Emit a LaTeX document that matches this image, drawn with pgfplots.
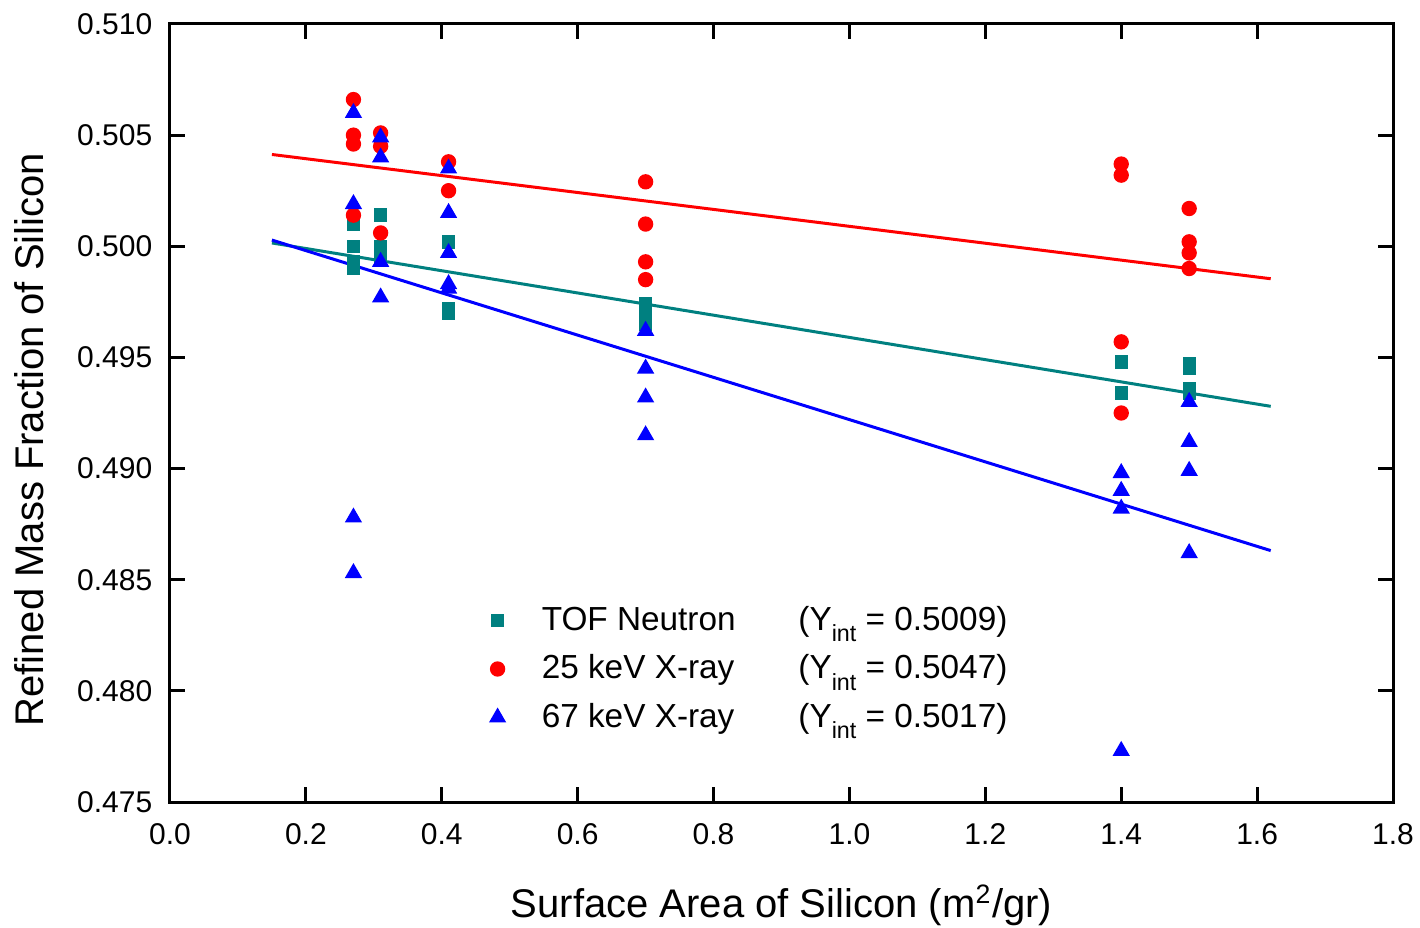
\documentclass[border=0pt]{standalone}
\usepackage{fontspec}
\setmainfont{Liberation Sans}
\usepackage{pgfplots}
\pgfplotsset{compat=1.18}
\definecolor{tealc}{RGB}{0,128,128}
\newcommand{\yint}{(Y\raisebox{-3.5pt}{\fontsize{7}{8}\selectfont int} = }
\begin{document}
\begin{tikzpicture}
\path[use as bounding box] (-51pt,-37.8pt) rectangle (375pt,240.6pt);
\begin{axis}[
  scale only axis,
  width=366.9pt, height=233.4pt,
  at={(0,0)}, anchor=south west,
  xmin=0, xmax=1.8, ymin=0.475, ymax=0.510,
  xtick={0,0.2,...,1.8},
  ytick={0.475,0.480,...,0.510},
  tick align=inside,
  tick pos=both,
  major tick length=4.5pt,
  minor tick num=0,
  axis line style={line width=0.9pt},
  every tick/.style={line width=0.9pt, black},
  /pgf/number format/assume math mode=true,
  xticklabel style={/pgf/number format/.cd, fixed, fixed zerofill, precision=1, /tikz/.cd, yshift=-3pt},
  yticklabel style={/pgf/number format/.cd, fixed, fixed zerofill, precision=3, /tikz/.cd, xshift=-1.8pt},
  scaled y ticks=false,
  tick label style={font=\fontsize{9}{10}\selectfont},
  xlabel={Surface Area of Silicon (m\textsuperscript{2}/gr)},
  ylabel={Refined Mass Fraction of Silicon},
  label style={font=\fontsize{12}{14}\selectfont},
  xlabel style={yshift=-5pt},
  ylabel style={yshift=3pt, xshift=-8pt},
  legend style={draw=none, fill=none, at={(0.253,0.27)}, anchor=north west,
    font=\fontsize{10}{12}\selectfont, row sep=1.8pt,
    nodes={inner sep=2pt}},
  legend cell align=left,
  clip=false,
]
\addplot[only marks, mark=square*, mark size=1.8pt, color=tealc] coordinates {
(0.27,0.5010) (0.27,0.5000) (0.27,0.4993) (0.27,0.4990)
(0.31,0.5014) (0.31,0.5000) (0.31,0.4997) (0.31,0.4994)
(0.41,0.5002) (0.41,0.4972) (0.41,0.4970)
(0.70,0.4974) (0.70,0.4968) (0.70,0.4965)
(1.40,0.4948) (1.40,0.4934)
(1.50,0.4947) (1.50,0.4945) (1.50,0.4936) (1.50,0.4934)
};
\addlegendentry{\hspace{9pt}\makebox[77pt][l]{TOF Neutron}\yint 0.5009)}
\addplot[only marks, mark=*, mark size=2.1pt, color=red] coordinates {
(0.27,0.5066) (0.27,0.5050) (0.27,0.5046) (0.27,0.5014)
(0.31,0.5051) (0.31,0.5045) (0.31,0.5006)
(0.41,0.5038) (0.41,0.5025)
(0.70,0.5029) (0.70,0.5010) (0.70,0.4993) (0.70,0.4985)
(1.40,0.5037) (1.40,0.5032) (1.40,0.4957) (1.40,0.4925)
(1.50,0.5017) (1.50,0.5002) (1.50,0.4997) (1.50,0.4990)
};
\addlegendentry{\hspace{9pt}\makebox[77pt][l]{25 keV X-ray}\yint 0.5047)}
\addplot[only marks, mark=triangle*, mark size=2.6pt, color=blue] coordinates {
(0.27,0.5060) (0.27,0.5019) (0.27,0.4878) (0.27,0.4853)
(0.31,0.5049) (0.31,0.5040) (0.31,0.4993) (0.31,0.4977)
(0.41,0.5035) (0.41,0.5015) (0.41,0.4997) (0.41,0.4983) (0.41,0.4981)
(0.70,0.4962) (0.70,0.4945) (0.70,0.4932) (0.70,0.4915)
(1.40,0.4898) (1.40,0.4890) (1.40,0.4882) (1.40,0.4773)
(1.50,0.4930) (1.50,0.4912) (1.50,0.4899) (1.50,0.4862)
};
\addlegendentry{\hspace{9pt}\makebox[77pt][l]{67 keV X-ray}\yint 0.5017)}
\addplot[tealc, line width=0.9pt, forget plot] coordinates {(0.15,0.50015) (1.62,0.49280)};
\addplot[red, line width=0.9pt, forget plot] coordinates {(0.15,0.50413) (1.62,0.49854)};
\addplot[blue, line width=0.9pt, forget plot] coordinates {(0.15,0.50028) (1.62,0.48631)};
\end{axis}
\end{tikzpicture}
\end{document}
